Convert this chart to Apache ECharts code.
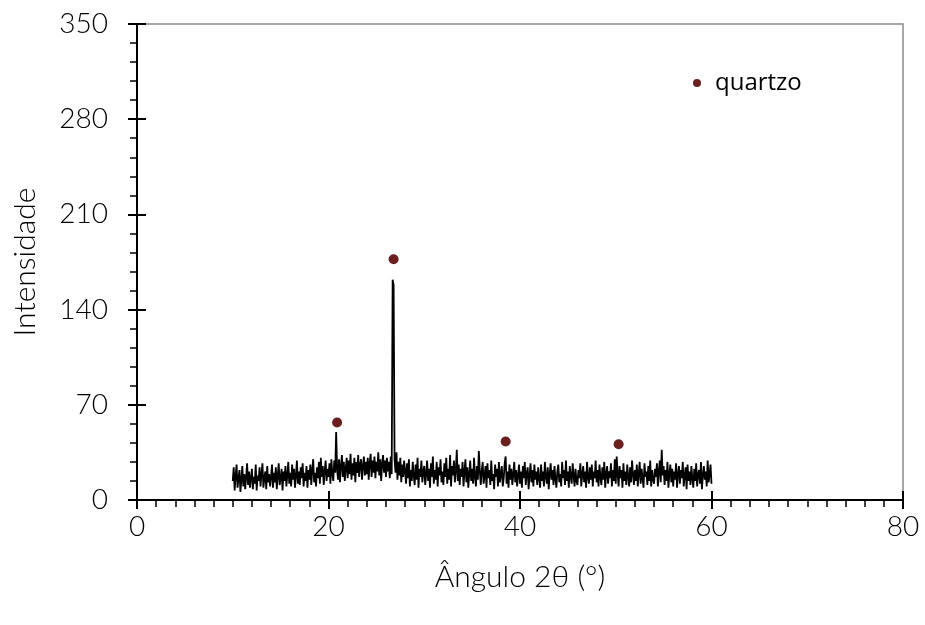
<!DOCTYPE html>
<html>
<head>
<meta charset="utf-8">
<script src="https://cdn.jsdelivr.net/npm/echarts@6/dist/echarts.min.js"></script>
<style>html,body{margin:0;padding:0;background:#fff}#c{width:925px;height:625px}</style>
</head>
<body>
<div id="c"></div>
<script>
// Diffractogram: angle start/step and intensity readings (0.1° step from 10° to 60°)
var angleStart = 10.0;
var angleStep = 0.1;
var intensity = [
14,24,7,18,26,9,16,22,6,15,25,10,19,8,17,27,11,21,9,16,
23,8,17,12,26,7,18,14,24,10,19,27,9,16,21,8,25,13,19,10,
17,26,9,20,13,24,8,18,27,11,16,23,7,21,14,25,10,18,28,12,
20,10,26,15,23,9,18,29,12,21,11,24,16,27,10,20,14,25,9,22,
15,26,11,22,30,13,20,10,24,16,28,12,31,17,25,11,21,29,14,23,
17,27,12,30,19,14,29,20,50,22,15,30,13,25,33,17,28,14,23,31,
16,29,19,34,15,27,18,31,13,28,20,33,17,26,30,15,25,32,18,28,
19,31,15,27,34,17,29,20,32,16,28,21,35,18,30,14,27,33,20,29,
17,31,21,28,16,32,19,162,158,30,20,35,15,28,18,31,13,26,17,29,
21,12,27,16,30,10,22,14,28,18,11,26,15,31,9,23,17,29,13,21,
25,11,19,29,14,23,9,27,17,32,12,22,15,28,10,24,18,30,13,21,
11,27,17,31,12,23,15,33,10,25,18,29,13,22,37,14,26,11,23,17,
28,10,21,30,13,24,9,19,29,14,23,12,31,17,10,25,15,36,22,11,
21,28,12,18,25,9,27,16,22,11,29,14,19,8,26,17,23,10,28,13,
19,25,10,16,27,32,12,21,9,26,15,23,11,19,28,13,22,10,18,26,
12,21,9,25,16,28,11,19,24,8,18,27,13,22,10,26,15,21,11,24,
16,9,26,14,21,10,28,17,12,24,8,19,27,15,22,11,25,16,9,21,
26,13,19,10,28,16,22,11,29,14,21,9,25,17,12,27,18,10,23,14,
11,22,16,27,10,19,25,13,21,9,28,17,12,24,15,26,10,21,16,29,
13,22,10,26,17,11,24,15,28,9,19,25,12,21,16,27,10,22,14,30,
12,32,19,10,25,16,22,9,27,14,21,11,26,17,10,24,13,29,19,11,
22,14,26,10,19,28,12,23,16,9,27,17,21,11,25,14,29,10,22,15,
12,23,17,27,10,21,29,13,37,18,25,11,22,14,28,9,19,26,13,23,
10,21,15,27,9,19,25,12,22,16,28,10,18,24,8,26,14,21,11,25,
16,9,23,14,27,10,19,22,12,28,8,18,25,15,21,10,29,13,19,26,
12
];
// Quartz peak markers
var quartzoAngle = [20.9, 26.8, 38.5, 50.3];
var quartzoValue = [57, 177, 43, 41];
// Axis ranges / ticks
var xMin = 0, xMax = 80, xInterval = 20;
var yMin = 0, yMax = 350, yInterval = 70;

var lineData = intensity.map(function (v, i) {
  return [+(angleStart + i * angleStep).toFixed(2), v];
});
var quartzoData = quartzoAngle.map(function (a, i) { return [a, quartzoValue[i]]; });

var axisFont = 'Lato';
var chart = echarts.init(document.getElementById('c'), null, {renderer: 'canvas'});
chart.setOption({
  animation: false,
  backgroundColor: '#fff',
  grid: {left: 137, right: 22, top: 24, bottom: 125, show: true, borderColor: '#8a8a8a', borderWidth: 1.5, backgroundColor: 'transparent'},
  legend: {
    data: ['quartzo'], left: 688, top: 66, icon: 'circle', itemWidth: 8, itemHeight: 8,
    textStyle: {fontFamily: 'Open Sans', fontSize: 24, color: '#000', padding: [0, 0, 0, 9]}
  },
  xAxis: [{
    type: 'value', min: xMin, max: xMax, interval: xInterval,
    name: 'Ângulo 2θ (°)', nameLocation: 'middle', nameGap: 62,
    nameTextStyle: {fontFamily: axisFont, fontWeight: 300, fontSize: 30, color: '#000'},
    axisLine: {lineStyle: {color: '#000', width: 2}},
    axisTick: {show: true, inside: false, length: 9, lineStyle: {color: '#000', width: 2}},
    minorTick: {show: true, splitNumber: 10, length: 7, lineStyle: {color: '#000', width: 1.5}},
    axisLabel: {margin: 13, fontFamily: axisFont, fontWeight: 300, fontSize: 28, color: '#000'},
    splitLine: {show: false}
  }, {
    type: 'value', min: xMin, max: xMax, interval: xInterval, position: 'bottom',
    axisLine: {show: false},
    axisTick: {show: true, inside: true, length: 9, lineStyle: {color: '#000', width: 2}},
    axisLabel: {show: false}, splitLine: {show: false}
  }],
  yAxis: [{
    type: 'value', min: yMin, max: yMax, interval: yInterval,
    name: 'Intensidade', nameLocation: 'middle', nameGap: 97,
    nameTextStyle: {fontFamily: axisFont, fontWeight: 300, fontSize: 30, color: '#000'},
    axisLine: {show: true, lineStyle: {color: '#000', width: 2}},
    axisTick: {show: true, inside: false, length: 9, lineStyle: {color: '#000', width: 2}},
    minorTick: {show: true, splitNumber: 5, length: 7, lineStyle: {color: '#000', width: 1.5}},
    axisLabel: {margin: 29, fontFamily: axisFont, fontWeight: 300, fontSize: 28, color: '#000'},
    splitLine: {show: false}
  }, {
    type: 'value', min: yMin, max: yMax, interval: yInterval, position: 'left',
    axisLine: {show: false},
    axisTick: {show: true, inside: true, length: 9, lineStyle: {color: '#000', width: 2}},
    axisLabel: {show: false}, splitLine: {show: false}
  }],
  series: [{
    name: 'DRX', type: 'line', data: lineData, showSymbol: false, symbol: 'none',
    lineStyle: {color: '#000', width: 1.8}, z: 2
  }, {
    name: 'quartzo', type: 'scatter', data: quartzoData, symbol: 'circle', symbolSize: 10,
    itemStyle: {color: '#6b1f1f', opacity: 1}, z: 3
  }]
});
</script>
</body>
</html>
